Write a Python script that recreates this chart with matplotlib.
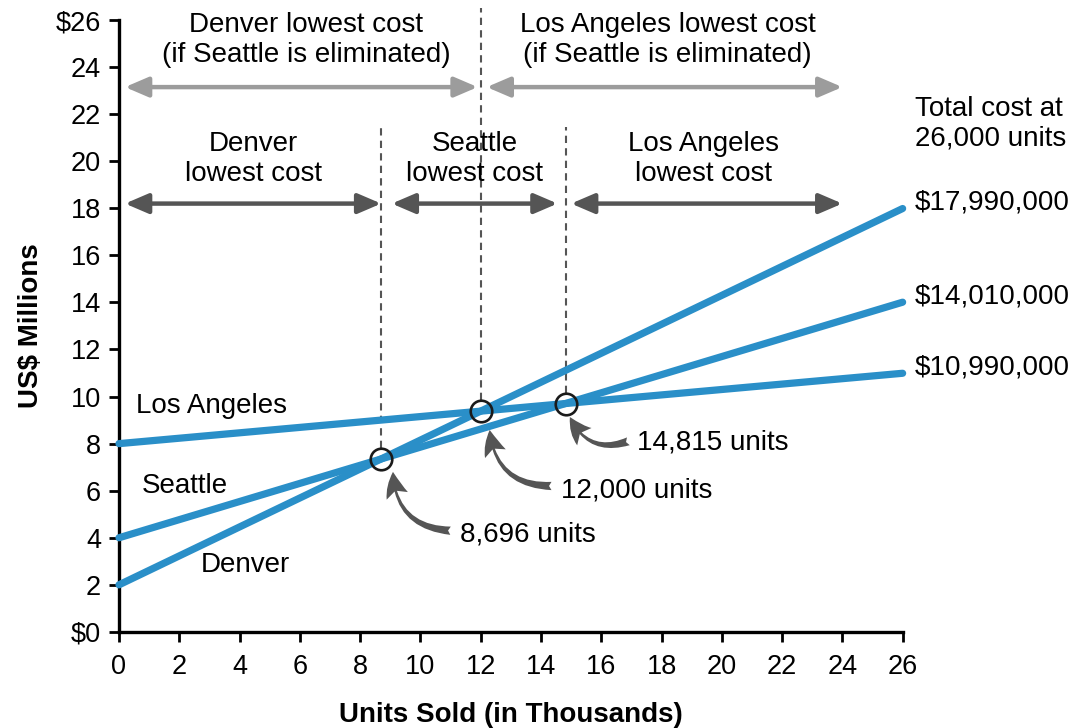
"""Break-even cost comparison: Denver, Seattle, Los Angeles."""
import matplotlib
matplotlib.use("Agg")
import matplotlib.pyplot as plt

plt.rcParams["font.family"] = ["Liberation Sans", "DejaVu Sans"]
plt.rcParams["font.size"] = 20

# total cost lines (units in thousands, cost in US$ millions)
units_range = [0, 26]
denver_cost = [2.0, 17.99]
seattle_cost = [4.0, 14.01]
la_cost = [8.0, 10.99]
end_labels = ["$17,990,000", "$14,010,000", "$10,990,000"]

# crossover points
cross_units = [8.696, 12.0, 14.815]
cross_costs = [7.35, 9.38, 9.70]
cross_labels = ["8,696 units", "12,000 units", "14,815 units"]

y_ticks = list(range(0, 27, 2))
y_tick_labels = ["$0"] + [str(v) for v in y_ticks[1:-1]] + ["$26"]
x_ticks = list(range(0, 27, 2))

BLUE = "#2a8fc8"
DARK = "#555555"
LIGHT = "#9c9c9c"

fig = plt.figure(figsize=(10.72, 7.28), dpi=100)
ax = fig.add_axes([0.111, 0.132, 0.731, 0.8405])

for costs in (denver_cost, seattle_cost, la_cost):
    ax.plot(units_range, costs, color=BLUE, lw=5.2, solid_capstyle="round",
            clip_on=False, zorder=3)

ax.plot(cross_units, cross_costs, "o", ms=15.5, mfc="none", mec="#1a1a1a",
        mew=1.9, zorder=5, clip_on=False)

# dashed guide lines
guide_tops = [21.45, 26.5, 21.45]
for ux, uc, top in zip(cross_units, cross_costs, guide_tops):
    ax.plot([ux, ux], [uc + 0.47, top], ls=(0, (3.5, 2.5)), color=DARK,
            lw=1.5, clip_on=False, zorder=2)

# double arrows
def span_arrow(x0, x1, y, color):
    ax.annotate("", xy=(x1, y), xytext=(x0, y),
                arrowprops=dict(arrowstyle="<|-|>,head_length=0.7,head_width=0.3",
                                color=color, lw=3.2, shrinkA=0, shrinkB=0),
                annotation_clip=False)

span_arrow(0.2, 11.9, 23.15, LIGHT)
span_arrow(12.2, 24.0, 23.15, LIGHT)
span_arrow(0.2, 8.7, 18.2, DARK)
span_arrow(9.05, 14.55, 18.2, DARK)
span_arrow(15.0, 24.0, 18.2, DARK)

ax.text(6.2, 25.15, "Denver lowest cost\n(if Seattle is eliminated)", ha="center",
        va="center", linespacing=1.2)
ax.text(18.2, 25.15, "Los Angeles lowest cost\n(if Seattle is eliminated)", ha="center",
        va="center", linespacing=1.2)
ax.text(4.45, 20.1, "Denver\nlowest cost", ha="center", va="center", linespacing=1.2)
ax.text(11.8, 20.1, "Seattle\nlowest cost", ha="center", va="center", linespacing=1.2)
ax.text(19.4, 20.1, "Los Angeles\nlowest cost", ha="center", va="center", linespacing=1.2)

# series names
ax.text(0.55, 9.6, "Los Angeles", ha="left", va="center")
ax.text(0.75, 6.2, "Seattle", ha="left", va="center")
ax.text(2.7, 2.85, "Denver", ha="left", va="center")

# curved callouts
arrow_starts = [(11.0, 4.3), (14.35, 6.2), (16.9, 8.1)]
arrow_tips = [(9.09, 6.8), (12.3, 8.58), (14.96, 9.13)]
text_pos = [(11.3, 4.16), (14.65, 6.0), (17.2, 8.03)]
for label, start, tip, tp in zip(cross_labels, arrow_starts, arrow_tips, text_pos):
    ax.annotate("", xy=tip, xytext=start,
                arrowprops=dict(arrowstyle="fancy,head_length=0.65,head_width=0.6,tail_width=0.22",
                                connectionstyle="arc3,rad=-0.45", color=DARK, lw=0,
                                shrinkA=0, shrinkB=0, mutation_scale=27))
    ax.text(tp[0], tp[1], label, ha="left", va="center")

# totals at the right
ax.text(26.4, 21.6, "Total cost at\n26,000 units", ha="left", va="center",
        linespacing=1.2, clip_on=False)
for costs, lab in zip((denver_cost, seattle_cost, la_cost), end_labels):
    ax.text(26.4, costs[1] + 0.25, lab, ha="left", va="center", clip_on=False)

ax.set_xlim(0, 26)
ax.set_ylim(0, 26)
ax.set_xticks(x_ticks)
ax.set_yticks(y_ticks)
ax.set_yticklabels(y_tick_labels)
ax.spines["top"].set_visible(False)
ax.spines["right"].set_visible(False)
for side in ("left", "bottom"):
    ax.spines[side].set_linewidth(2.4)
ax.tick_params(direction="out", length=7, width=2, labelsize=19.5, pad=6)
ax.tick_params(axis="x", pad=9)
ax.set_xlabel("Units Sold (in Thousands)", fontweight="bold", labelpad=16)
ax.set_ylabel("US$ Millions", fontweight="bold", labelpad=8)

fig.savefig("out.png", dpi=100)
